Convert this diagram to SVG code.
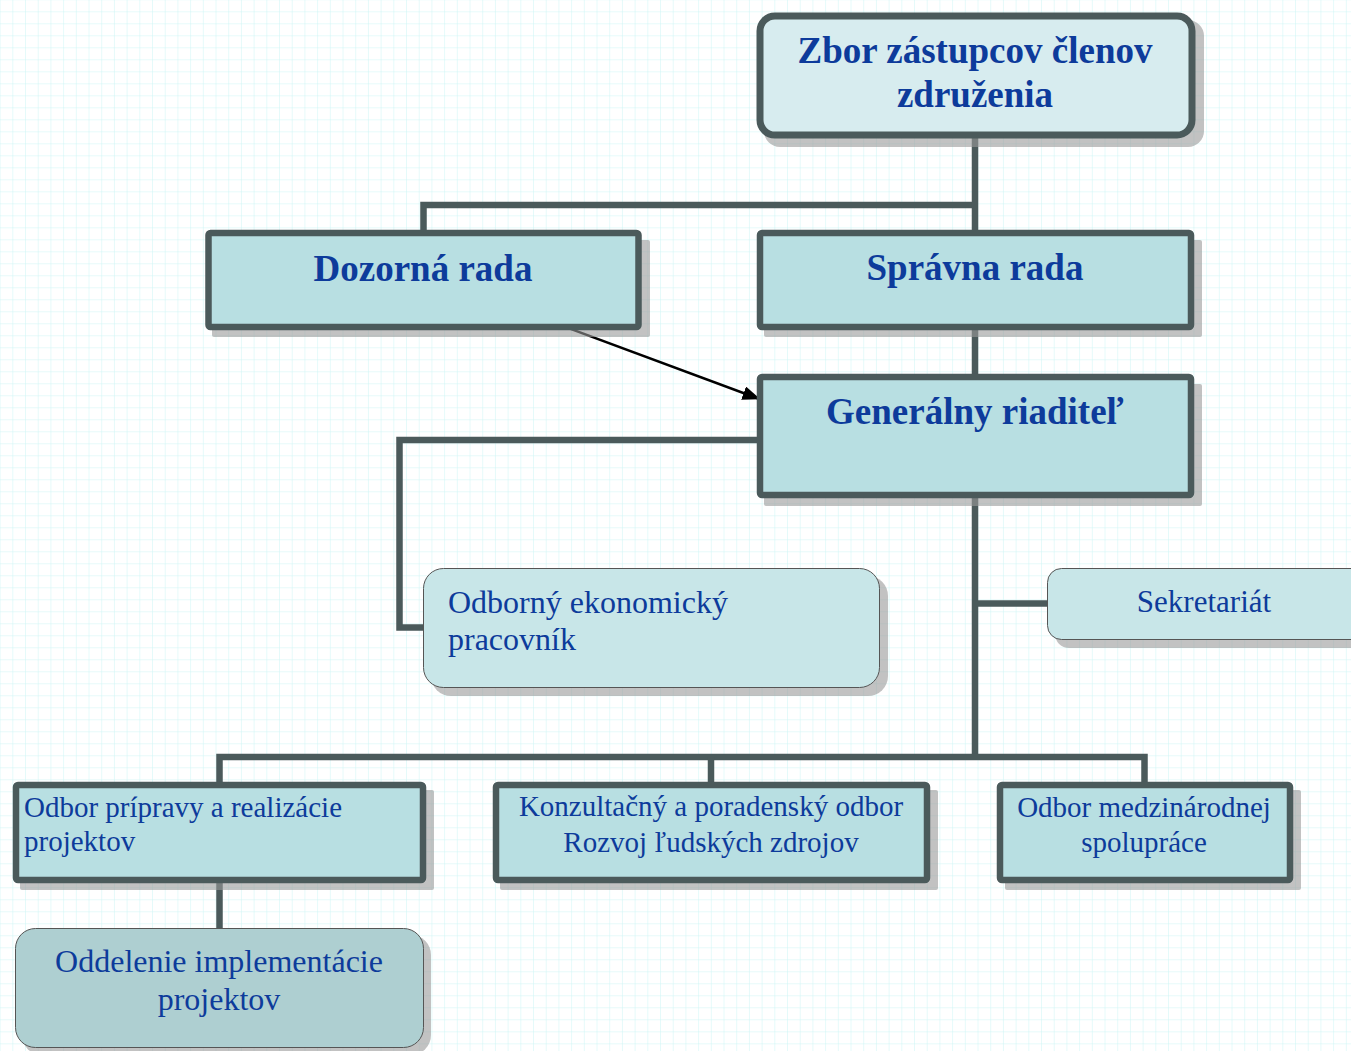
<svg xmlns="http://www.w3.org/2000/svg" width="1351" height="1051" viewBox="0 0 1351 1051">
  <defs>
    <pattern id="grid" patternUnits="userSpaceOnUse" x="0.6" y="0.3" width="12.7" height="12">
      <path d="M12.7 0V12M0 12H12.7" fill="none" stroke="#cdf5f5" stroke-width="1"/>
    </pattern>
    <marker id="arrow" viewBox="0 0 18 14" refX="17" refY="7" markerWidth="18" markerHeight="14" markerUnits="userSpaceOnUse" orient="auto">
      <path d="M0 0L18 7L0 14Z" fill="#000"/>
    </marker>
    <style>
      .conn { fill: none; stroke: #4b5a5b; stroke-width: 6.5; stroke-linejoin: miter; }
      .shadow { fill: #999; opacity: 0.6; }
      .box { fill: #b8dfe2; stroke: #4b5a5b; stroke-width: 6.5; }
      .top { fill: #d7ecef; stroke: #4b5a5b; stroke-width: 7; }
      .soft { fill: #c8e6e8; stroke: #555; stroke-width: 1; }
      .dark { fill: #aecfd1; stroke: #555; stroke-width: 1; }
      .tb { font-family: "Liberation Serif", "Times New Roman", serif; font-weight: bold; font-size: 37px; fill: #0d3b9b; }
      .tr { font-family: "Liberation Serif", "Times New Roman", serif; fill: #0d3b9b; }
      .c { text-anchor: middle; }
    </style>
  </defs>
  <rect x="0" y="0" width="1351" height="1051" fill="#fff"/>
  <rect x="0" y="0" width="1351" height="1051" fill="url(#grid)"/>

  <g id="connectors">
    <path class="conn" d="M975 138V232"/>
    <path class="conn" d="M975 205H423.5V232"/>
    <path class="conn" d="M975 328V376"/>
    <path class="conn" d="M760 440H399.5V627.5H424"/>
    <path class="conn" d="M975 496V757"/>
    <path class="conn" d="M975 603.5H1048"/>
    <path class="conn" d="M219.5 785V757H1144.5V785"/>
    <path class="conn" d="M711 757V785"/>
    <path class="conn" d="M219.5 880V929"/>
    <path d="M566.5 327.3L759.5 399" fill="none" stroke="#000" stroke-width="2.5" marker-end="url(#arrow)"/>
  </g>

  <g id="zbor">
    <rect class="shadow" x="764" y="20" width="440" height="127" rx="16"/>
    <rect class="top" x="760" y="16" width="432" height="119" rx="15"/>
    <text class="tb c" x="975" y="63">Zbor zástupcov členov</text>
    <text class="tb c" x="975" y="107">združenia</text>
  </g>

  <g id="dozorna">
    <rect class="shadow" x="212" y="240" width="438" height="97" rx="2"/>
    <rect class="box" x="208.5" y="233" width="430" height="94" rx="2"/>
    <text class="tb c" x="423" y="281">Dozorná rada</text>
  </g>

  <g id="spravna">
    <rect class="shadow" x="764" y="240" width="438" height="97" rx="2"/>
    <rect class="box" x="760" y="233" width="431" height="94" rx="2"/>
    <text class="tb c" x="975" y="280">Správna rada</text>
  </g>

  <g id="generalny">
    <rect class="shadow" x="764" y="384" width="438" height="122" rx="2"/>
    <rect class="box" x="760" y="377" width="431" height="118" rx="2"/>
    <text class="tb c" x="975" y="424">Generálny riaditeľ</text>
  </g>

  <g id="odborny">
    <rect class="shadow" x="431" y="576" width="457" height="120" rx="20"/>
    <rect class="soft" x="423.5" y="568.5" width="456" height="119" rx="20"/>
    <text class="tr" x="448" y="613" font-size="32">Odborný ekonomický</text>
    <text class="tr" x="448" y="650" font-size="32">pracovník</text>
  </g>

  <g id="sekretariat">
    <rect class="shadow" x="1055" y="576" width="320" height="72" rx="14"/>
    <rect class="soft" x="1047.5" y="568.5" width="320" height="71" rx="14"/>
    <text class="tr c" x="1204" y="612" font-size="31">Sekretariát</text>
  </g>

  <g id="odbor-pripravy">
    <rect class="shadow" x="20" y="790" width="414" height="100" rx="2"/>
    <rect class="box" x="16" y="785" width="407" height="95" rx="2"/>
    <text class="tr" x="24" y="817" font-size="29">Odbor prípravy a realizácie</text>
    <text class="tr" x="24" y="851" font-size="29">projektov</text>
  </g>

  <g id="konzultacny">
    <rect class="shadow" x="500" y="790" width="438" height="100" rx="2"/>
    <rect class="box" x="496" y="785" width="431" height="95" rx="2"/>
    <text class="tr c" x="711" y="816" font-size="29">Konzultačný a poradenský odbor</text>
    <text class="tr c" x="711" y="852" font-size="29">Rozvoj ľudských zdrojov</text>
  </g>

  <g id="medzinarodnej">
    <rect class="shadow" x="1005" y="790" width="296" height="100" rx="2"/>
    <rect class="box" x="1000" y="785" width="290" height="95" rx="2"/>
    <text class="tr c" x="1144" y="817" font-size="29">Odbor medzinárodnej</text>
    <text class="tr c" x="1144" y="852" font-size="29">spolupráce</text>
  </g>

  <g id="oddelenie">
    <rect class="shadow" x="22" y="935" width="409" height="120" rx="20"/>
    <rect class="dark" x="15.5" y="928.5" width="408" height="119" rx="20"/>
    <text class="tr c" x="219" y="972" font-size="32">Oddelenie implementácie</text>
    <text class="tr c" x="219" y="1010" font-size="32">projektov</text>
  </g>
</svg>
